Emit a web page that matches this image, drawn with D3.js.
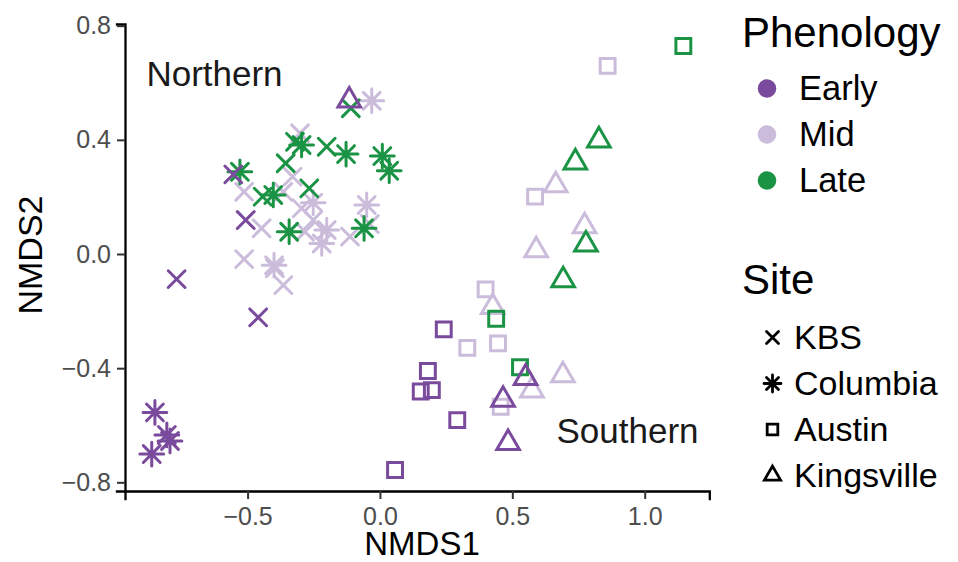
<!DOCTYPE html>
<html>
<head>
<meta charset="utf-8">
<script src="https://cdn.jsdelivr.net/npm/d3@7"></script>
<style>
  body { margin: 0; background: #fff; }
  svg { display: block; font-family: "Liberation Sans", Arial, Helvetica, sans-serif; }
</style>
</head>
<body>
<svg id="nmds" width="958" height="562"></svg>
<script>
// NMDS scores, one entry per sample (drawn in this order: Mid, Late, Early)
const nmds1 = [
  // Mid
  -0.302, -0.330, -0.513, -0.365, -0.296, -0.447, -0.252, -0.283, -0.113, -0.038, -0.513, -0.397, -0.365,
  -0.031, -0.252, -0.050, -0.201, -0.220, -0.400,
  0.860, 0.586, 0.399, 0.330, 0.446, 0.456,
  0.664, 0.773, 0.590, 0.426, 0.691, 0.574,
  // Late
  -0.110, -0.321, -0.201, -0.356, -0.267, -0.443,
  -0.296, -0.128, 0.009, 0.035, -0.529, -0.403, -0.343, -0.060,
  1.146, 0.439, 0.529,
  0.827, 0.738, 0.778, 0.692,
  // Early
  -0.554, -0.507, -0.768, -0.460,
  -0.850, -0.805, -0.793, -0.862,
  0.241, 0.181, 0.154, 0.196, 0.292, 0.057,
  -0.116, 0.550, 0.465, 0.484
];
const nmds2 = [
  // Mid
  0.423, 0.271, 0.218, 0.218, 0.160, 0.090, 0.119, 0.078, 0.061, 0.105, -0.018, -0.050, -0.109,
  0.537, 0.180, 0.172, 0.084, 0.037, -0.039,
  0.659, 0.201, -0.124, -0.329, -0.313, -0.535,
  0.241, 0.097, 0.013, -0.186, -0.425, -0.478,
  // Late
  0.511, 0.393, 0.376, 0.318, 0.230, 0.201,
  0.382, 0.350, 0.343, 0.292, 0.288, 0.207, 0.078, 0.090,
  0.729, -0.227, -0.397,
  0.398, 0.321, 0.033, -0.092,
  // Early
  0.279, 0.119, -0.088, -0.222,
  -0.555, -0.634, -0.655, -0.701,
  -0.264, -0.410, -0.482, -0.477, -0.582, -0.757,
  0.538, -0.434, -0.511, -0.662
];
const phenology = [].concat(
  Array(31).fill("Mid"),
  Array(21).fill("Late"),
  Array(18).fill("Early")
);
const site = [
  "KBS","KBS","KBS","KBS","KBS","KBS","KBS","KBS","KBS","KBS","KBS","KBS","KBS",
  "Columbia","Columbia","Columbia","Columbia","Columbia","Columbia",
  "Austin","Austin","Austin","Austin","Austin","Austin",
  "Kingsville","Kingsville","Kingsville","Kingsville","Kingsville","Kingsville",
  "KBS","KBS","KBS","KBS","KBS","KBS",
  "Columbia","Columbia","Columbia","Columbia","Columbia","Columbia","Columbia","Columbia",
  "Austin","Austin","Austin",
  "Kingsville","Kingsville","Kingsville","Kingsville",
  "KBS","KBS","KBS","KBS",
  "Columbia","Columbia","Columbia","Columbia",
  "Austin","Austin","Austin","Austin","Austin","Austin",
  "Kingsville","Kingsville","Kingsville","Kingsville"
];

const phenologyLevels = ["Early", "Mid", "Late"];
const phenologyColors = ["#7A4A9C", "#CBBCDB", "#1A9444"];
const siteLevels = ["KBS", "Columbia", "Austin", "Kingsville"];
const xTicks = [-0.5, 0, 0.5, 1];
const yTicks = [-0.8, -0.4, 0, 0.4, 0.8];
const noteLabels = ["Northern", "Southern"];
const noteX = [-0.625, 0.935];
const noteY = [0.63, -0.618];

// R-like point glyphs (pch 4, 8, 0, 2) centred on 0,0
function markerPath(s, r) {
  const p = d3.path();
  if (s === "KBS" || s === "Columbia") {
    p.moveTo(-r, -r); p.lineTo(r, r);
    p.moveTo(-r, r); p.lineTo(r, -r);
    if (s === "Columbia") {
      const c = Math.SQRT2 * r;
      p.moveTo(-c, 0); p.lineTo(c, 0);
      p.moveTo(0, -c); p.lineTo(0, c);
    }
  } else if (s === "Austin") {
    const h = 0.886 * r;
    p.rect(-h, -h, 2 * h, 2 * h);
  } else {
    const t = 1.555 * r;
    p.moveTo(0, -t);
    p.lineTo(0.866 * t, 0.5 * t);
    p.lineTo(-0.866 * t, 0.5 * t);
    p.closePath();
  }
  return p.toString();
}

const svg = d3.select("#nmds");
const x = d3.scaleLinear().domain([-0.963, 1.244]).range([125, 709.3]);
const y = d3.scaleLinear().domain([-0.8304, 0.8059]).range([491, 24]);
const color = d3.scaleOrdinal().domain(phenologyLevels).range(phenologyColors);
const fmt = d3.format(".1f");

// axes
const gx = svg.append("g")
  .attr("transform", `translate(0,${y.range()[0]})`)
  .call(d3.axisBottom(x).tickValues(xTicks).tickFormat(fmt).tickSizeOuter(0).tickSize(8).tickPadding(8));
const gy = svg.append("g")
  .attr("transform", `translate(${x.range()[0]},0)`)
  .call(d3.axisLeft(y).tickValues(yTicks).tickFormat(fmt).tickSizeOuter(0).tickSize(8).tickPadding(6));

[gx, gy].forEach(g => {
  g.select(".domain").attr("stroke", "#000").attr("stroke-width", 2.3).attr("stroke-linecap", "square");
  g.selectAll(".tick line").attr("stroke", "#333").attr("stroke-width", 2);
  g.selectAll(".tick text")
    .attr("fill", "#4D4D4D")
    .style("font-size", "25px")
    .style("font-family", "'Liberation Sans', Arial, Helvetica, sans-serif");
});

svg.append("text")
  .attr("x", 422).attr("y", 555)
  .attr("text-anchor", "middle")
  .style("font-size", "33px")
  .text("NMDS1");
svg.append("text")
  .attr("transform", "translate(41.5,255) rotate(-90)")
  .attr("text-anchor", "middle")
  .style("font-size", "34px")
  .text("NMDS2");

// points
svg.append("g").selectAll("path")
  .data(d3.range(nmds1.length))
  .join("path")
  .attr("transform", i => `translate(${x(nmds1[i])},${y(nmds2[i])})`)
  .attr("d", i => markerPath(site[i], 8.4))
  .attr("fill", "none")
  .attr("stroke", i => color(phenology[i]))
  .attr("stroke-width", 3)
  .attr("stroke-linecap", "round")
  .attr("stroke-linejoin", "miter");

// region labels
svg.append("g").selectAll("text")
  .data(noteLabels)
  .join("text")
  .attr("x", (d, i) => x(noteX[i]))
  .attr("y", (d, i) => y(noteY[i]))
  .attr("dy", "0.35em")
  .attr("text-anchor", "middle")
  .attr("fill", "#1a1a1a")
  .style("font-size", "35px")
  .text(d => d);

// legend: phenology
const legP = svg.append("g");
legP.append("text").attr("x", 742).attr("y", 47).style("font-size", "42px").text("Phenology");
legP.selectAll("circle")
  .data(phenologyLevels)
  .join("circle")
  .attr("cx", 767)
  .attr("cy", (d, i) => 88.5 + i * 46)
  .attr("r", 9.3)
  .attr("fill", d => color(d));
legP.selectAll("text.lab")
  .data(phenologyLevels)
  .join("text")
  .attr("class", "lab")
  .attr("x", 799)
  .attr("y", (d, i) => 99.5 + i * 46)
  .style("font-size", "34.5px")
  .text(d => d);

// legend: site
const legS = svg.append("g");
legS.append("text").attr("x", 742).attr("y", 294).style("font-size", "42px").text("Site");
legS.selectAll("path")
  .data(siteLevels)
  .join("path")
  .attr("transform", (d, i) => `translate(772.5,${337.5 + i * 46})`)
  .attr("d", d => markerPath(d, 6))
  .attr("fill", "none")
  .attr("stroke", "#000")
  .attr("stroke-width", 2.8)
  .attr("stroke-linecap", "round");
legS.selectAll("text.lab")
  .data(siteLevels)
  .join("text")
  .attr("class", "lab")
  .attr("x", 794)
  .attr("y", (d, i) => 348.5 + i * 46)
  .style("font-size", "34px")
  .text(d => d);
</script>
</body>
</html>
